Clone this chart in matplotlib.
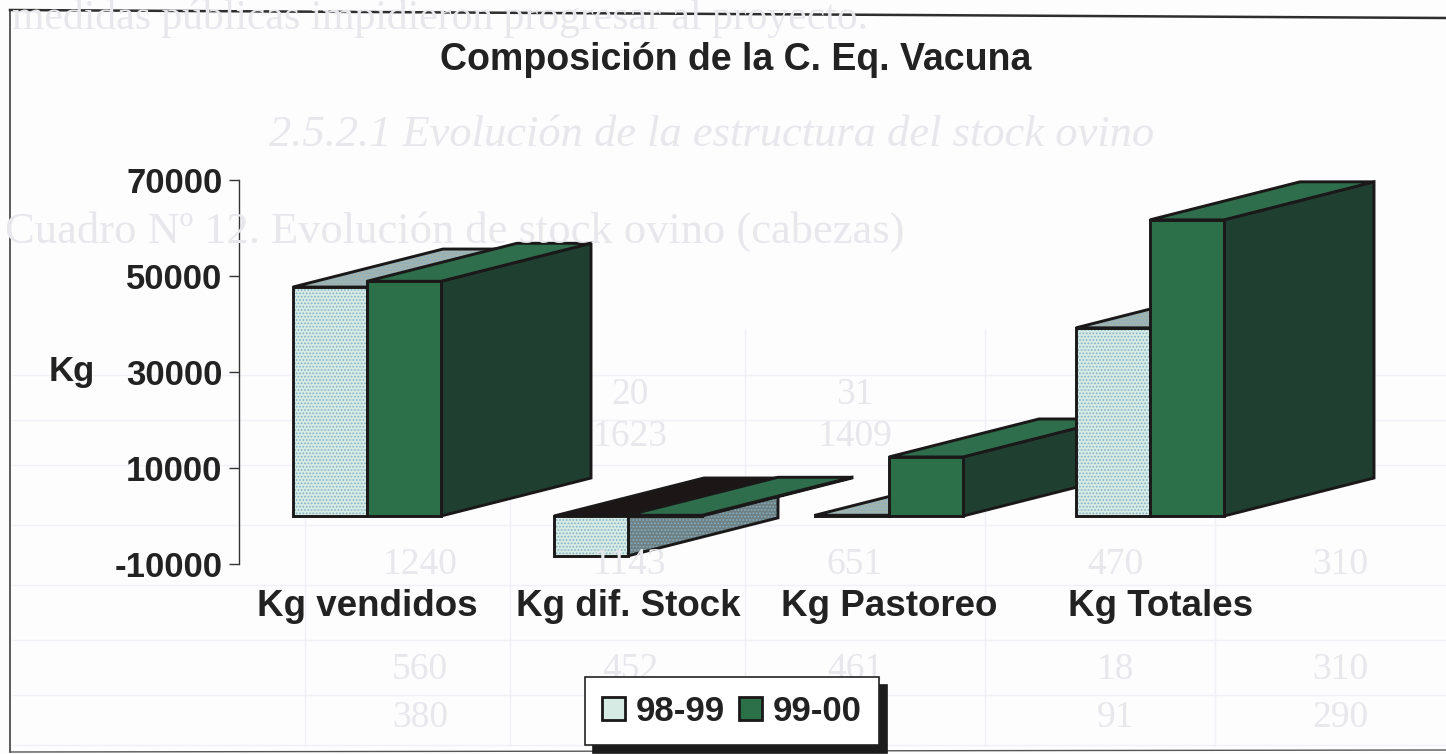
import matplotlib
matplotlib.use("Agg")
import matplotlib.pyplot as plt
from matplotlib.patches import Polygon, Patch
from matplotlib.lines import Line2D

categories = ["Kg vendidos", "Kg dif. Stock", "Kg Pastoreo", "Kg Totales"]
kg_98_99 = [47700, -8300, 150, 39200]
kg_99_00 = [48900, 150, 12300, 61700]
series_names = ["98-99", "99-00"]
y_ticks = [-10000, 10000, 30000, 50000, 70000]

# hoja de atras que se transparenta en el escaneo
ghost_lines = ["medidas públicas impidieron progresar al proyecto.",
               "2.5.2.1 Evolución de la estructura del stock ovino",
               "Cuadro Nº 12. Evolución de stock ovino (cabezas)"]
ghost_cols = [420, 630, 855, 1115, 1340]
ghost_rows = [(395, ["", "20", "31", "", ""]),
              (437, ["", "1623", "1409", "", ""]),
              (565, ["1240", "1143", "651", "470", "310"]),
              (670, ["560", "452", "461", "18", "310"]),
              (718, ["380", "", "", "91", "290"])]
ghost_hlines = [375, 420, 465, 525, 585, 640, 695, 745]
ghost_vlines = [305, 510, 745, 985, 1215]

W, H = 1446, 754
plt.rcParams['font.family'] = ['Liberation Sans', 'DejaVu Sans']
plt.rcParams['hatch.linewidth'] = 0.8

fig = plt.figure(figsize=(W / 100, H / 100), dpi=100, facecolor="#fdfdfe")

# fondo
ghost = "#e7e7ec"
fig.text(440 / W, 1 - 19 / H, ghost_lines[0], family="Liberation Serif", fontsize=30,
         color=ghost, ha="center", va="center")
fig.text(712 / W, 1 - 135 / H, ghost_lines[1], family="Liberation Serif", style="italic", fontsize=32,
         color=ghost, ha="center", va="center")
fig.text(455 / W, 1 - 232 / H, ghost_lines[2], family="Liberation Serif", fontsize=32,
         color=ghost, ha="center", va="center")
for yy, cells in ghost_rows:
    for xx, c in zip(ghost_cols, cells):
        fig.text(xx / W, 1 - yy / H, c, family="Liberation Serif", fontsize=27,
                 color=ghost, ha="center", va="center", zorder=0)
for yy in ghost_hlines:
    fig.add_artist(Line2D([12 / W, 1], [1 - yy / H, 1 - yy / H], color="#f1f1f5", lw=1.0, zorder=0))
for xx in ghost_vlines:
    fig.add_artist(Line2D([xx / W, xx / W], [1 - 330 / H, 1 - 745 / H], color="#f1f1f5", lw=1.0, zorder=0))

# marco escaneado
frame = "#2e2e2e"
fig.add_artist(Line2D([10 / W, 1], [1 - 10 / H, 1 - 18 / H], color=frame, lw=1.8))
fig.add_artist(Line2D([10 / W, 10 / W], [1 - 10 / H, 1 - 752 / H], color=frame, lw=1.1))
fig.add_artist(Line2D([10 / W, 1], [1 - 752 / H, 1 - 750 / H], color="#555555", lw=1.0))

left, right, top, bottom = 239, 1400, 180, 564
ax = fig.add_axes([left / W, 1 - bottom / H, (right - left) / W, (bottom - top) / H])
ax.patch.set_alpha(0)

unit = 261.0
ax.set_xlim((left - 367) / unit, (right - 367) / unit)
ax.set_ylim(-10000, 70000)

bar_w = 74 / unit
dx = 150 / unit
dy = 38 / 96 * 20000

edge = "#1a1818"
light = dict(front="#d6ebe3", top="#a3b3ae", side="#6f8082", hatch="#84b0c6")
green = dict(front="#2b7049", top="#2f6e4c", side="#1f4030", hatch=None)


def poly(pts, face, hatch_col, z):
    if hatch_col:
        ax.add_patch(Polygon(pts, facecolor=face, edgecolor=hatch_col, hatch=".....", lw=0, zorder=z, clip_on=False))
    else:
        ax.add_patch(Polygon(pts, facecolor=face, edgecolor="none", zorder=z, clip_on=False))
    ax.add_patch(Polygon(pts, fill=False, edgecolor=edge, lw=2.1, joinstyle="miter", zorder=z, clip_on=False))


z = 3
for i in range(len(categories)):
    for j, (vals, st) in enumerate([(kg_98_99, light), (kg_99_00, green)]):
        v = vals[i]
        x0 = i - bar_w + j * bar_w
        x1 = x0 + bar_w
        lo, hi = min(0, v), max(0, v)
        top_col = "#1d1616" if v < 0 else st["top"]
        top_hatch = None if v < 0 else st["hatch"]
        poly([(x1, lo), (x1 + dx, lo + dy), (x1 + dx, hi + dy), (x1, hi)], st["side"], st["hatch"], z)
        poly([(x0, hi), (x0 + dx, hi + dy), (x1 + dx, hi + dy), (x1, hi)], top_col, top_hatch, z + 0.1)
        poly([(x0, lo), (x1, lo), (x1, hi), (x0, hi)], st["front"], st["hatch"], z + 0.2)
        z += 1

for s in ["top", "right", "bottom"]:
    ax.spines[s].set_visible(False)
ax.spines["left"].set_color("#333333")
ax.spines["left"].set_linewidth(1.0)

ax.set_yticks(y_ticks)
ax.set_yticklabels([str(t) for t in y_ticks], fontsize=25, fontweight="bold", color="#222222")
ax.tick_params(axis="y", length=7, width=1.0, color="#333333", pad=5)
# la ultima etiqueta esta algo corrida a la derecha en el original
ax.set_xticks([0, 1, 2, 3.04])
ax.set_xticklabels(categories, fontsize=26.5, fontweight="bold", color="#222222")
ax.tick_params(axis="x", length=0, pad=18)

ax.set_ylabel("Kg", rotation=0, fontsize=25, fontweight="bold", color="#222222", va="center", ha="center")
ax.yaxis.set_label_coords((72 - left) / (right - left), (bottom - 372) / (bottom - top))

fig.text(736 / W, 1 - 60 / H, "Composición de la C. Eq. Vacuna", fontsize=27, fontweight="bold",
         color="#222222", ha="center", va="center")

handles = [Patch(facecolor=light["front"], edgecolor=edge, hatch=None, lw=2.0, label=series_names[0]),
           Patch(facecolor=green["front"], edgecolor=edge, lw=2.0, label=series_names[1])]
leg = fig.legend(handles=handles, ncol=2, loc="lower left", bbox_to_anchor=(585 / W, 1 - 745 / H),
                 bbox_transform=fig.transFigure, frameon=True, fancybox=False, borderaxespad=0,
                 prop={"size": 25, "weight": "bold"}, handlelength=0.66, handleheight=0.68,
                 handletextpad=0.3, columnspacing=0.42, borderpad=0.5,
                 shadow={"facecolor": "#1c1c1c", "edgecolor": "#1c1c1c", "alpha": 1, "ox": 5.8, "oy": -5.8})
leg.get_frame().set_edgecolor("#222222")
leg.get_frame().set_linewidth(1.2)
leg.get_frame().set_facecolor("white")
leg.get_frame().set_alpha(1)
for t in leg.get_texts():
    t.set_color("#222222")

fig.savefig("out.png", dpi=100, facecolor=fig.get_facecolor())
